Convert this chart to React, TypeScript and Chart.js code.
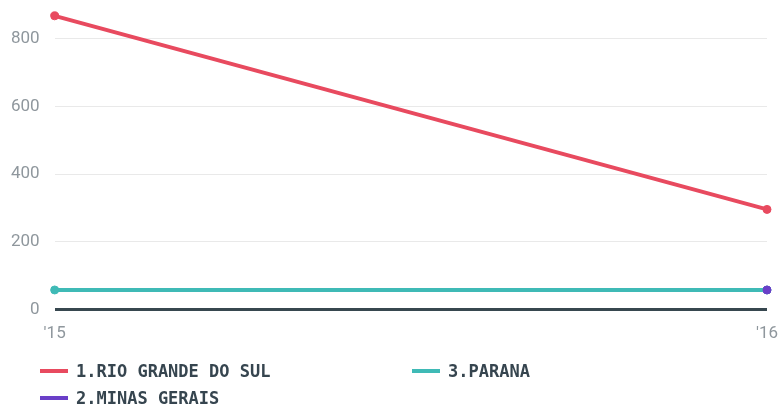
import React, { useEffect, useRef } from "react";
import { Chart, registerables } from "chart.js";

Chart.register(...registerables);

const categories = ["'15", "'16"];
const seriesNames = ["1.RIO GRANDE DO SUL", "2.MINAS GERAIS", "3.PARANA"];
const rioGrandeDoSul = [868, 296];
const minasGerais = [null, 58];
const parana = [58, 58];
const seriesColors = ["#e84a5f", "#6a3fc8", "#3fbab6"];
const yTickValues = [0, 200, 400, 600, 800];

export default function App() {
  const ref = useRef<HTMLCanvasElement | null>(null);

  useEffect(() => {
    if (!ref.current) return;
    const values = [rioGrandeDoSul, minasGerais, parana];
    const order = [2, 0, 1];
    const chart = new Chart(ref.current, {
      type: "line",
      data: {
        labels: categories,
        datasets: values.map((v, i) => ({
          label: seriesNames[i],
          data: v,
          borderColor: seriesColors[i],
          backgroundColor: seriesColors[i],
          pointBackgroundColor: seriesColors[i],
          pointBorderColor: seriesColors[i],
          borderWidth: 4,
          pointRadius: 4,
          pointBorderWidth: 1,
          tension: 0,
          order: order[i],
          clip: false as any,
        })),
      },
      options: {
        responsive: false,
        animation: false,
        layout: { padding: { left: -4, right: 15, top: 0, bottom: 0 } },
        plugins: { legend: { display: false }, tooltip: { enabled: false } },
        scales: {
          x: {
            offset: false,
            grid: { display: false, drawTicks: false },
            border: { display: false },
            afterFit: (axis: any) => {
              axis.paddingLeft = 0;
              axis.paddingRight = 0;
            },
            ticks: {
              color: "#8f979d",
              font: { family: "Roboto", size: 17 },
              padding: 14,
              maxRotation: 0,
            },
          },
          y: {
            min: 0,
            max: 900,
            border: { display: false },
            afterBuildTicks: (axis: any) => {
              axis.ticks = yTickValues.map((v) => ({ value: v }));
            },
            afterFit: (axis: any) => {
              axis.paddingTop = 5;
            },
            grid: {
              drawTicks: false,
              color: (ctx: any) => (ctx.tick && ctx.tick.value === 0 ? "#37474f" : "#e9e9e9"),
              lineWidth: (ctx: any) => (ctx.tick && ctx.tick.value === 0 ? 3 : 1),
            },
            ticks: {
              color: "#8f979d",
              font: { family: "Roboto", size: 17 },
              padding: 15,
            },
          },
        },
      },
    });
    return () => chart.destroy();
  }, []);

  const legendOrder = [0, 2, 1];

  return (
    <div style={{ width: 782 }}>
      <style>{`body{margin:0;}`}</style>
      <canvas ref={ref} width={782} height={358} style={{ display: "block" }} />
      <div
        style={{
          display: "grid",
          gridTemplateColumns: "372px 372px",
          paddingLeft: 40,
          marginTop: -1,
        }}
      >
        {legendOrder.map((i) => (
          <div key={i} style={{ display: "flex", alignItems: "center", height: 27 }}>
            <span
              style={{
                display: "inline-block",
                width: 28,
                height: 4,
                background: seriesColors[i],
                marginRight: 8,
              }}
            />
            <span
              style={{
                fontFamily: "'DejaVu Sans Mono', monospace",
                fontWeight: "bold",
                fontSize: 17,
                color: "#36454f",
              }}
            >
              {seriesNames[i]}
            </span>
          </div>
        ))}
      </div>
    </div>
  );
}
